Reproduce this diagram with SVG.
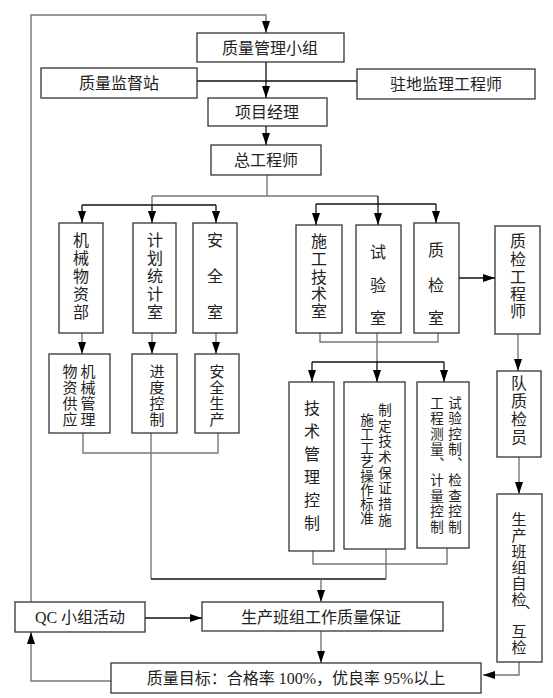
<svg xmlns="http://www.w3.org/2000/svg" width="553" height="698" viewBox="0 0 553 698">
<style>
.box{fill:#fff;stroke:#333;stroke-width:1.3}
.t{font-family:"Liberation Serif","Noto Sans CJK SC",serif;font-size:16px;fill:#222;text-anchor:middle;dominant-baseline:central}
.s15{font-size:15px}
.s14{font-size:13.5px}
.g{fill:none;stroke:#777;stroke-width:1.4}
.k{fill:none;stroke:#111;stroke-width:1.3}
.a{marker-end:url(#ah)}
</style>
<defs>
<marker id="ah" markerUnits="userSpaceOnUse" markerWidth="12" markerHeight="8" refX="12" refY="4" orient="auto">
<path d="M0,0 L12,4 L0,8 z" fill="#000"/>
</marker>
</defs>
<rect width="553" height="698" fill="#fff"/>

<g id="connectors">
<polyline class="g a" points="31,602 31,15 266,15 266,33"/>
<line class="k a" x1="266" y1="62" x2="266" y2="98"/>
<line class="k" x1="197" y1="81" x2="357" y2="81"/>
<line class="k a" x1="266" y1="126" x2="266" y2="145"/>
<line class="g" x1="267" y1="175" x2="267" y2="196"/>
<line class="g" x1="152" y1="196" x2="378" y2="196"/>
<line class="g" x1="152" y1="196" x2="152" y2="205"/>
<line class="k" x1="82" y1="205" x2="216" y2="205"/>
<line class="k a" x1="82" y1="205" x2="82" y2="223"/>
<line class="k a" x1="152" y1="205" x2="152" y2="223"/>
<line class="k a" x1="216" y1="205" x2="216" y2="223"/>
<line class="k" x1="316" y1="204" x2="436" y2="204"/>
<line class="k a" x1="316" y1="204" x2="316" y2="225"/>
<line class="k a" x1="378" y1="196" x2="378" y2="225"/>
<line class="k a" x1="436" y1="204" x2="436" y2="223"/>
<line class="g a" x1="82" y1="333" x2="82" y2="354"/>
<line class="g a" x1="152" y1="333" x2="152" y2="354"/>
<line class="g a" x1="216" y1="333" x2="216" y2="354"/>
<polyline class="g" points="83,433 83,453 218,453 218,433"/>
<line class="g" x1="151" y1="433" x2="151" y2="579"/>
<line class="k" x1="151" y1="579" x2="386" y2="579"/>
<polyline class="g" points="320,333 320,342 438,342 438,333"/>
<line class="g" x1="377" y1="333" x2="377" y2="362"/>
<line class="k" x1="312" y1="362" x2="444" y2="362"/>
<line class="k a" x1="312" y1="362" x2="312" y2="382"/>
<line class="k a" x1="377" y1="362" x2="377" y2="382"/>
<line class="k a" x1="444" y1="362" x2="444" y2="382"/>
<polyline class="g" points="313,551 313,564 447,564 447,548"/>
<line class="g" x1="386" y1="549" x2="386" y2="579"/>
<line class="g a" x1="321" y1="579" x2="321" y2="602"/>
<line class="k a" x1="145" y1="618" x2="202" y2="618"/>
<line class="g a" x1="321" y1="631" x2="321" y2="663"/>
<polyline class="g a" points="111,681 31,681 31,632"/>
<polyline class="g a" points="519,662 519,675 483,675"/>
<line class="k a" x1="459" y1="278" x2="495" y2="278"/>
<line class="g a" x1="518" y1="334" x2="518" y2="371"/>
<line class="g a" x1="519" y1="457" x2="519" y2="494"/>
</g>

<g id="n-qmgroup"><rect class="box" x="197" y="33" width="147" height="29"/><text class="t" x="270" y="48">质量管理小组</text></g>
<g id="n-supervise"><rect class="box" x="41" y="68" width="156" height="30"/><text class="t" x="119" y="83">质量监督站</text></g>
<g id="n-resident"><rect class="box" x="357" y="69" width="178" height="30"/><text class="t" x="446" y="84">驻地监理工程师</text></g>
<g id="n-pm"><rect class="box" x="208" y="98" width="119" height="28"/><text class="t" x="267" y="112">项目经理</text></g>
<g id="n-chief"><rect class="box" x="211" y="145" width="110" height="30"/><text class="t" x="266" y="160">总工程师</text></g>

<g id="n-mech"><rect class="box" x="59" y="223" width="44" height="110"/>
<text class="t"><tspan x="81" y="240">机</tspan><tspan x="81" y="258">械</tspan><tspan x="81" y="276">物</tspan><tspan x="81" y="294">资</tspan><tspan x="81" y="312">部</tspan></text></g>
<g id="n-plan"><rect class="box" x="133" y="223" width="43" height="110"/>
<text class="t"><tspan x="155" y="240">计</tspan><tspan x="155" y="258">划</tspan><tspan x="155" y="276">统</tspan><tspan x="155" y="294">计</tspan><tspan x="155" y="312">室</tspan></text></g>
<g id="n-safe"><rect class="box" x="193" y="223" width="44" height="110"/>
<text class="t"><tspan x="215" y="240">安</tspan><tspan x="215" y="276">全</tspan><tspan x="215" y="312">室</tspan></text></g>

<g id="n-mechmgmt"><rect class="box" x="49" y="354" width="61" height="79"/>
<text class="t s15"><tspan x="88" y="372">机</tspan><tspan x="88" y="388">械</tspan><tspan x="88" y="404">管</tspan><tspan x="88" y="420">理</tspan></text>
<text class="t s15"><tspan x="70" y="372">物</tspan><tspan x="70" y="388">资</tspan><tspan x="70" y="404">供</tspan><tspan x="70" y="420">应</tspan></text></g>
<g id="n-progress"><rect class="box" x="132" y="354" width="45" height="79"/>
<text class="t s15"><tspan x="157" y="372">进</tspan><tspan x="157" y="388">度</tspan><tspan x="157" y="404">控</tspan><tspan x="157" y="420">制</tspan></text></g>
<g id="n-safeprod"><rect class="box" x="195" y="354" width="44" height="79"/>
<text class="t s15"><tspan x="217" y="372">安</tspan><tspan x="217" y="388">全</tspan><tspan x="217" y="404">生</tspan><tspan x="217" y="420">产</tspan></text></g>

<g id="n-techroom"><rect class="box" x="296" y="225" width="46" height="108"/>
<text class="t"><tspan x="319" y="241">施</tspan><tspan x="319" y="259">工</tspan><tspan x="319" y="277">技</tspan><tspan x="319" y="294">术</tspan><tspan x="319" y="311">室</tspan></text></g>
<g id="n-lab"><rect class="box" x="356" y="225" width="45" height="108"/>
<text class="t"><tspan x="378" y="252">试</tspan><tspan x="378" y="285">验</tspan><tspan x="378" y="318">室</tspan></text></g>
<g id="n-qcroom"><rect class="box" x="414" y="223" width="45" height="110"/>
<text class="t"><tspan x="436" y="250">质</tspan><tspan x="436" y="285">检</tspan><tspan x="436" y="318">室</tspan></text></g>
<g id="n-qceng"><rect class="box" x="495" y="226" width="45" height="108"/>
<text class="t"><tspan x="518" y="241">质</tspan><tspan x="518" y="259">检</tspan><tspan x="518" y="277">工</tspan><tspan x="518" y="294">程</tspan><tspan x="518" y="311">师</tspan></text></g>

<g id="n-techmgmt"><rect class="box" x="289" y="382" width="45" height="169"/>
<text class="t"><tspan x="312" y="408">技</tspan><tspan x="312" y="431">术</tspan><tspan x="312" y="454">管</tspan><tspan x="312" y="477">理</tspan><tspan x="312" y="500">控</tspan><tspan x="312" y="523">制</tspan></text></g>
<g id="n-process"><rect class="box" x="344" y="382" width="61" height="167"/>
<text class="t s14"><tspan x="385" y="410">制</tspan><tspan x="385" y="426">定</tspan><tspan x="385" y="441">技</tspan><tspan x="385" y="457">术</tspan><tspan x="385" y="473">保</tspan><tspan x="385" y="488">证</tspan><tspan x="385" y="504">措</tspan><tspan x="385" y="520">施</tspan></text>
<text class="t s14"><tspan x="367" y="420">施</tspan><tspan x="367" y="434">工</tspan><tspan x="367" y="448">工</tspan><tspan x="367" y="462">艺</tspan><tspan x="367" y="476">操</tspan><tspan x="367" y="490">作</tspan><tspan x="367" y="504">标</tspan><tspan x="367" y="518">准</tspan></text></g>
<g id="n-testctrl"><rect class="box" x="417" y="382" width="52" height="166"/>
<text class="t s14"><tspan x="455" y="403">试</tspan><tspan x="455" y="418">验</tspan><tspan x="455" y="434">控</tspan><tspan x="455" y="449">制</tspan><tspan x="464" y="455">、</tspan><tspan x="455" y="480">检</tspan><tspan x="455" y="496">查</tspan><tspan x="455" y="511">控</tspan><tspan x="455" y="527">制</tspan></text>
<text class="t s14"><tspan x="437" y="403">工</tspan><tspan x="437" y="418">程</tspan><tspan x="437" y="434">测</tspan><tspan x="437" y="449">量</tspan><tspan x="446" y="455">、</tspan><tspan x="437" y="480">计</tspan><tspan x="437" y="496">量</tspan><tspan x="437" y="511">控</tspan><tspan x="437" y="527">制</tspan></text></g>

<g id="n-teamqc"><rect class="box" x="497" y="371" width="44" height="86"/>
<text class="t"><tspan x="519" y="383">队</tspan><tspan x="519" y="401">质</tspan><tspan x="519" y="419">检</tspan><tspan x="519" y="437">员</tspan></text></g>
<g id="n-selfcheck"><rect class="box" x="497" y="494" width="45" height="168"/>
<text class="t s15"><tspan x="519" y="520">生</tspan><tspan x="519" y="536">产</tspan><tspan x="519" y="552">班</tspan><tspan x="519" y="568">组</tspan><tspan x="519" y="584">自</tspan><tspan x="519" y="600">检</tspan><tspan x="532" y="603">、</tspan><tspan x="519" y="632">互</tspan><tspan x="519" y="648">检</tspan></text></g>

<g id="n-qc"><rect class="box" x="15" y="602" width="130" height="30"/><text class="t" x="80" y="617">QC 小组活动</text></g>
<g id="n-teamwork"><rect class="box" x="202" y="602" width="241" height="29"/><text class="t" x="321" y="617">生产班组工作质量保证</text></g>
<g id="n-goal"><rect class="box" x="111" y="663" width="370" height="30"/><text class="t" x="296" y="678">质量目标：合格率 100%，优良率 95%以上</text></g>
</svg>
